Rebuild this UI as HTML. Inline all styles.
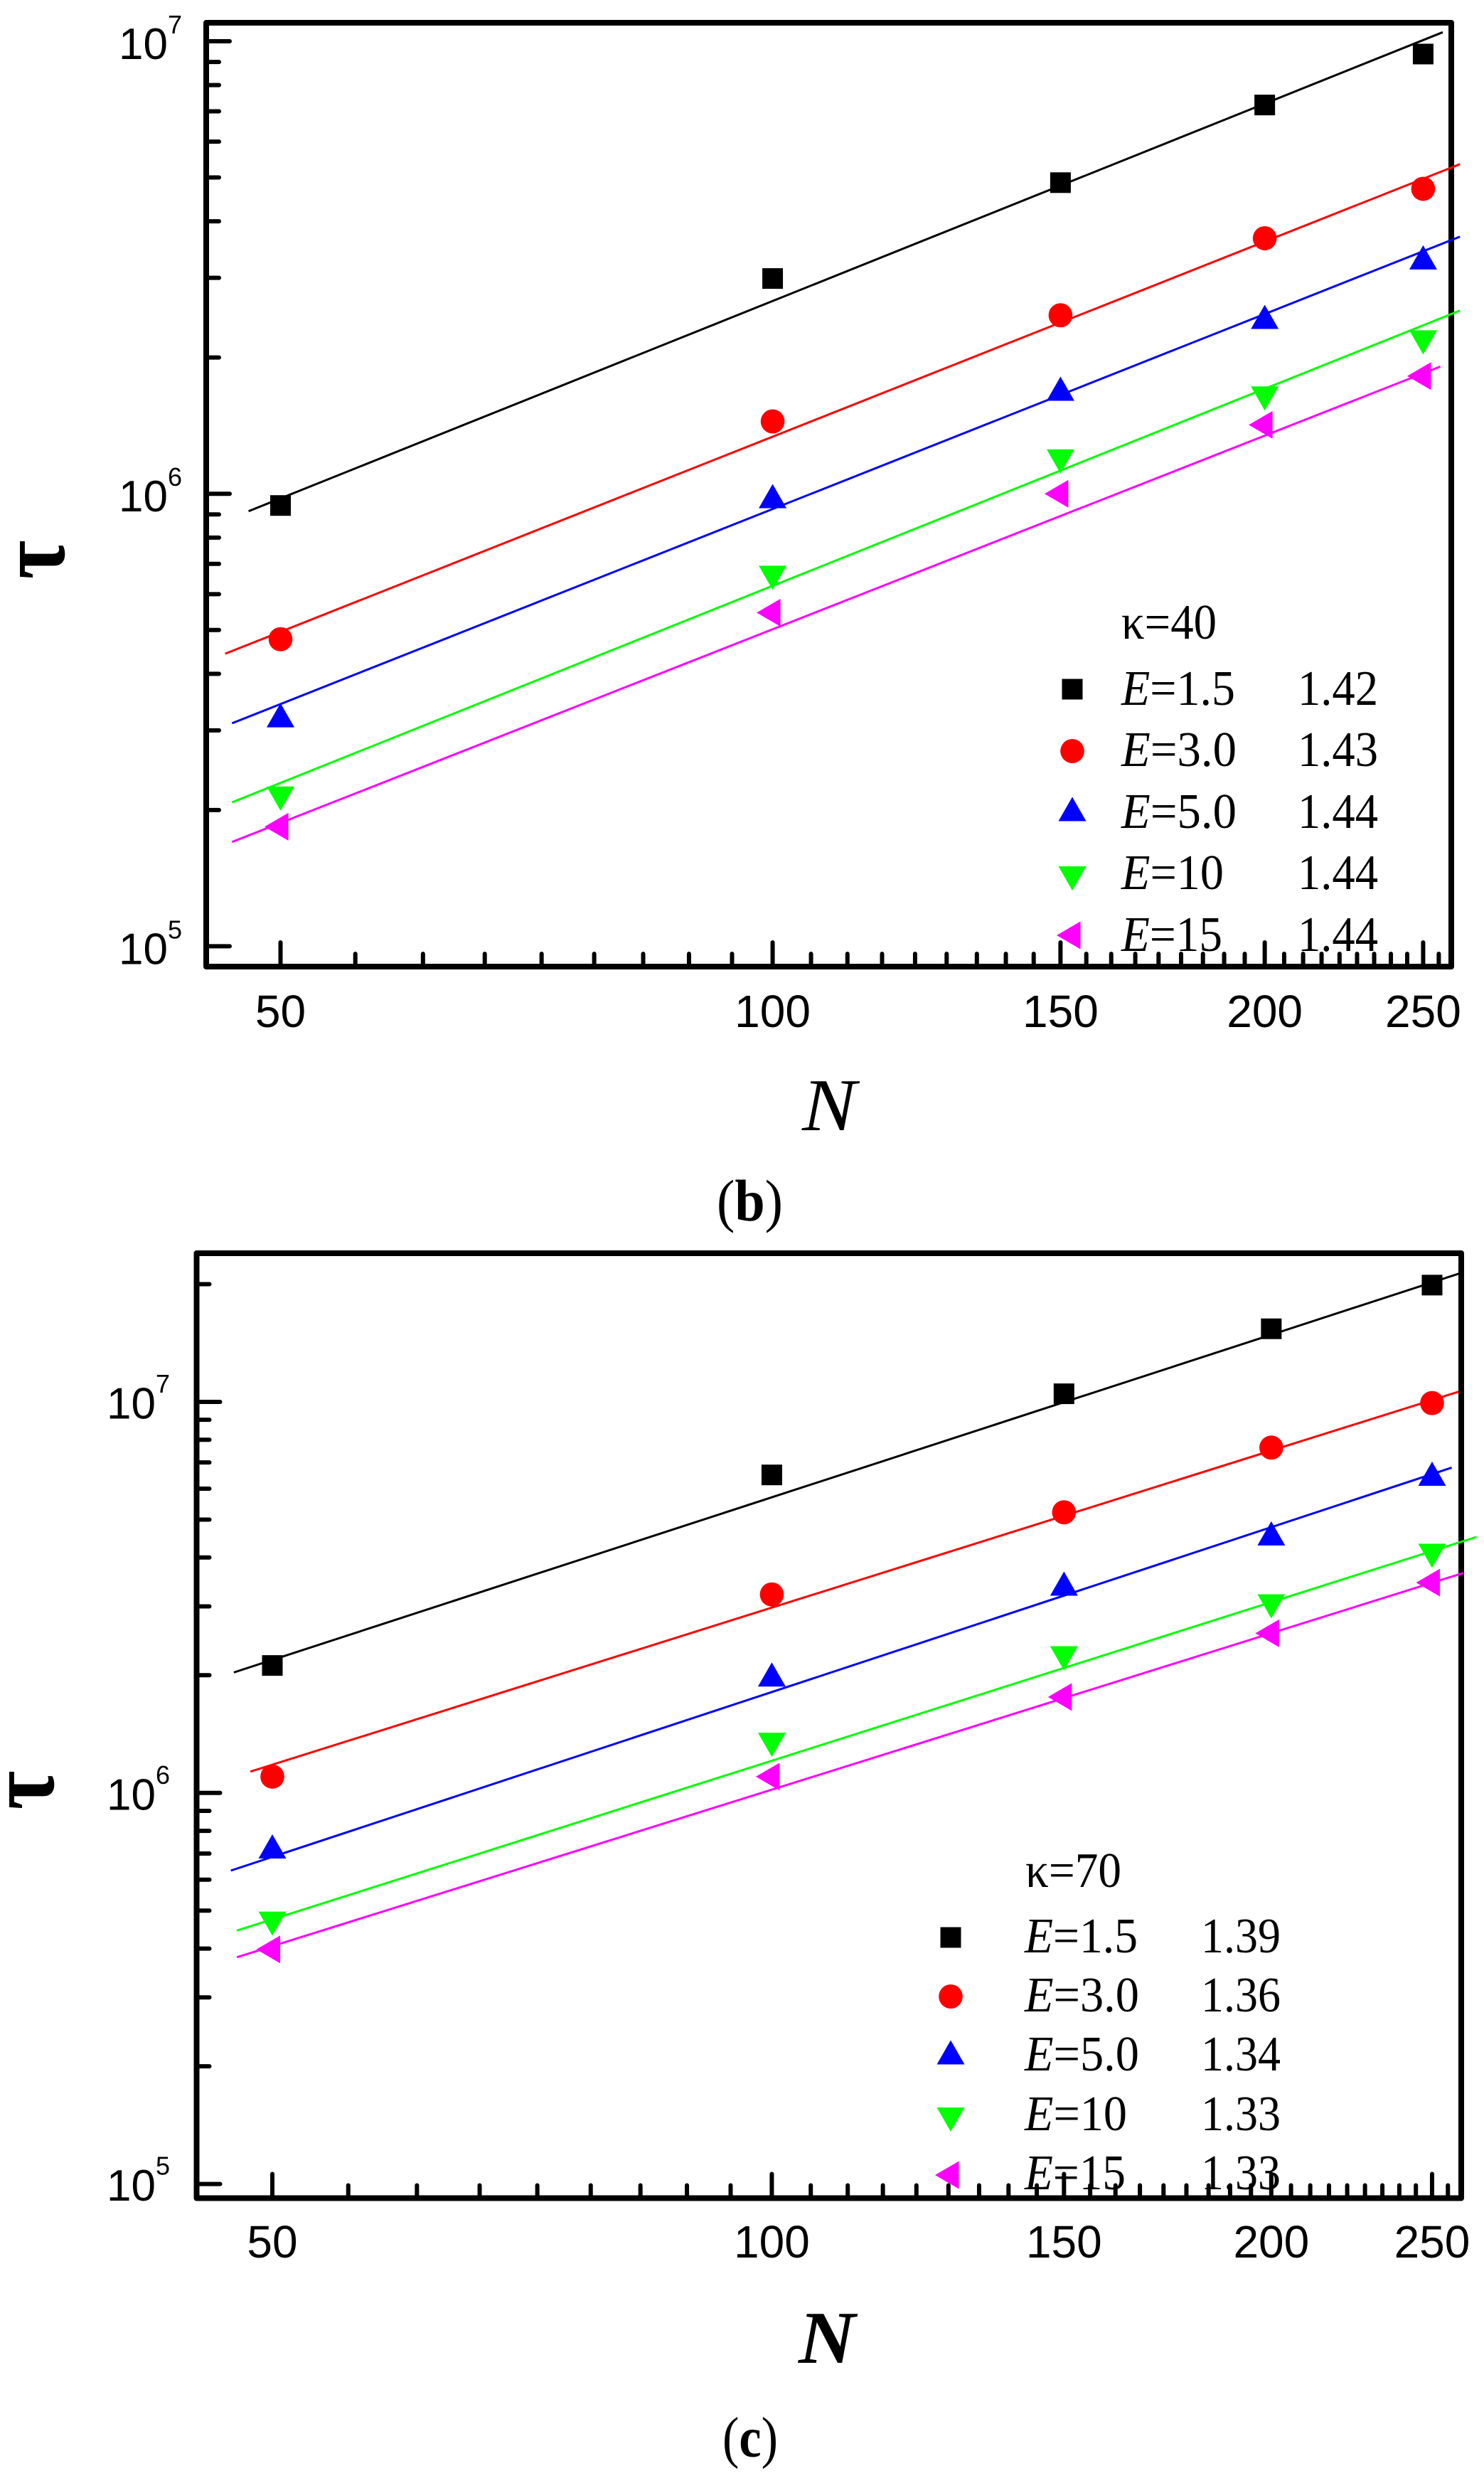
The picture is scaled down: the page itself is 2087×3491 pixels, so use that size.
<!DOCTYPE html>
<html lang="en">
<head>
<meta charset="utf-8">
<title>Relaxation time vs chain length</title>
<style>
html,body{margin:0;padding:0;background:#fff;}
svg{display:block;}
.serif{font-family:"Liberation Serif","DejaVu Serif",serif;fill:#000;}
.leg{font-size:70px;}
</style>
</head>
<body>
<svg id="figure" xmlns="http://www.w3.org/2000/svg" width="2087" height="3491" viewBox="0 0 2087 3491">
  <rect width="2087" height="3491" fill="#fff"/>
  <g id="panel-b"></g>
  <g id="panel-c"></g>

  <g class="serif leg">
    <text x="1577" y="898" textLength="134" lengthAdjust="spacingAndGlyphs">κ=40</text>
    <text x="1577" y="991" textLength="160" lengthAdjust="spacingAndGlyphs"><tspan font-style="italic">E</tspan>=1.5</text>
    <text x="1825" y="991" textLength="113" lengthAdjust="spacingAndGlyphs">1.42</text>
    <text x="1577" y="1077" textLength="162" lengthAdjust="spacingAndGlyphs"><tspan font-style="italic">E</tspan>=3.0</text>
    <text x="1825" y="1077" textLength="113" lengthAdjust="spacingAndGlyphs">1.43</text>
    <text x="1577" y="1164" textLength="162" lengthAdjust="spacingAndGlyphs"><tspan font-style="italic">E</tspan>=5.0</text>
    <text x="1825" y="1164" textLength="113" lengthAdjust="spacingAndGlyphs">1.44</text>
    <text x="1577" y="1250" textLength="144" lengthAdjust="spacingAndGlyphs"><tspan font-style="italic">E</tspan>=10</text>
    <text x="1825" y="1250" textLength="113" lengthAdjust="spacingAndGlyphs">1.44</text>
    <text x="1577" y="1337" textLength="142" lengthAdjust="spacingAndGlyphs"><tspan font-style="italic">E</tspan>=15</text>
    <text x="1825" y="1337" textLength="113" lengthAdjust="spacingAndGlyphs">1.44</text>
  </g>
  <g class="serif leg">
    <text x="1442" y="2653" textLength="135" lengthAdjust="spacingAndGlyphs">κ=70</text>
    <text x="1441" y="2745" textLength="159" lengthAdjust="spacingAndGlyphs"><tspan font-style="italic">E</tspan>=1.5</text>
    <text x="1689" y="2745" textLength="112" lengthAdjust="spacingAndGlyphs">1.39</text>
    <text x="1441" y="2828" textLength="161" lengthAdjust="spacingAndGlyphs"><tspan font-style="italic">E</tspan>=3.0</text>
    <text x="1689" y="2828" textLength="112" lengthAdjust="spacingAndGlyphs">1.36</text>
    <text x="1441" y="2911" textLength="161" lengthAdjust="spacingAndGlyphs"><tspan font-style="italic">E</tspan>=5.0</text>
    <text x="1689" y="2911" textLength="112" lengthAdjust="spacingAndGlyphs">1.34</text>
    <text x="1441" y="2995" textLength="144" lengthAdjust="spacingAndGlyphs"><tspan font-style="italic">E</tspan>=10</text>
    <text x="1689" y="2995" textLength="112" lengthAdjust="spacingAndGlyphs">1.33</text>
    <text x="1441" y="3078" textLength="142" lengthAdjust="spacingAndGlyphs"><tspan font-style="italic">E</tspan>=15</text>
    <text x="1689" y="3078" textLength="112" lengthAdjust="spacingAndGlyphs">1.33</text>
  </g>

  <text class="serif" font-weight="bold" font-size="135" text-anchor="middle" transform="translate(90 787) rotate(-90) scale(.88 1)">τ</text>
  <text class="serif" font-weight="bold" font-size="135" text-anchor="middle" transform="translate(75 2517) rotate(-90) scale(.88 1)">τ</text>
  <text class="serif" font-style="italic" font-size="105" x="1128" y="1589" textLength="76" lengthAdjust="spacingAndGlyphs">N</text>
  <text class="serif" font-style="italic" font-weight="bold" font-size="105" x="1123" y="3322" textLength="80" lengthAdjust="spacingAndGlyphs">N</text>
  <text class="serif" font-size="83" x="1008" y="1716" textLength="93" lengthAdjust="spacingAndGlyphs">(<tspan font-weight="bold">b</tspan>)</text>
  <text class="serif" font-size="80" x="1016" y="3454" textLength="78" lengthAdjust="spacingAndGlyphs">(<tspan font-weight="bold">c</tspan>)</text>
</svg>

<script>
// ---- shared data ----
const categoriesN = [50, 100, 150, 200, 250];
const xTickLabels = ["50", "100", "150", "200", "250"];
const yDecades = [5, 6, 7];
const yMinorMultipliers = [2, 3, 4, 5, 6, 7, 8, 9];
const seriesNames = ["e1-5", "e3-0", "e5-0", "e10", "e15"];
const seriesColors = ["#000000", "#ff0000", "#0000ff", "#00ff00", "#ff00ff"];
const seriesShapes = ["square", "circle", "up", "down", "left"];

// ---- panel (b), kappa = 40: measured tau ----
const bTauE15 = [9.42e5, 2.99e6, 4.87e6, 7.23e6, 9.37e6];
const bTauE30 = [4.77e5, 1.445e6, 2.48e6, 3.67e6, 4.72e6];
const bTauE50 = [3.24e5, 9.88e5, 1.707e6, 2.46e6, 3.33e6];
const bTauE10 = [2.12e5, 6.52e5, 1.179e6, 1.624e6, 2.16e6];
const bTauE15b = [1.837e5, 5.46e5, 1.0e6, 1.42e6, 1.82e6];
// panel (b): fit line end points
const bFitN = [[47.8, 257.0], [46.25, 263.3], [46.7, 263.3], [46.7, 263.3], [46.7, 256.1]];
const bFitTauE15 = [9.15e5, 1.047e7];
const bFitTauE30 = [4.43e5, 5.35e6];
const bFitTauE50 = [3.11e5, 3.70e6];
const bFitTauE10 = [2.08e5, 2.54e6];
const bFitTauE15b = [1.70e5, 1.91e6];

// ---- panel (c), kappa = 70: measured tau ----
const cTauE15 = [2.118e6, 6.505e6, 1.049e7, 1.538e7, 1.989e7];
const cTauE30 = [1.101e6, 3.218e6, 5.22e6, 7.64e6, 9.93e6];
const cTauE50 = [7.30e5, 2.009e6, 3.43e6, 4.61e6, 6.55e6];
const cTauE10 = [4.63e5, 1.328e6, 2.21e6, 3.00e6, 4.04e6];
const cTauE15b = [3.98e5, 1.101e6, 1.76e6, 2.56e6, 3.45e6];
// panel (c): fit line end points
const cFitN = [[47.4, 259.4], [48.5, 259.4], [47.2, 256.9], [47.6, 265.9], [47.6, 261.0]];
const cFitTauE15 = [2.033e6, 2.127e7];
const cFitTauE30 = [1.134e6, 1.062e7];
const cFitTauE50 = [6.33e5, 6.79e6];
const cFitTauE10 = [4.446e5, 4.515e6];
const cFitTauE15b = [3.80e5, 3.65e6];

const SVG_NS = "http://www.w3.org/2000/svg";

function mk(tag, parent) {
  const el = document.createElementNS(SVG_NS, tag);
  parent.appendChild(el);
  return el;
}

function sansText(parent, str, x, y, size, anchor) {
  const t = mk("text", parent);
  t.textContent = str;
  t.setAttribute("x", x);
  t.setAttribute("y", y);
  t.setAttribute("font-size", size);
  t.setAttribute("text-anchor", anchor);
  t.setAttribute("font-family", '"Liberation Sans", Arial, sans-serif');
  t.setAttribute("fill", "#000");
  return t;
}

function drawMarker(parent, shape, color, cx, cy) {
  let el;
  if (shape === "square") {
    el = mk("rect", parent);
    el.setAttribute("x", cx - 14.5);
    el.setAttribute("y", cy - 14.5);
    el.setAttribute("width", 29);
    el.setAttribute("height", 29);
  } else if (shape === "circle") {
    el = mk("ellipse", parent);
    el.setAttribute("cx", cx);
    el.setAttribute("cy", cy);
    el.setAttribute("rx", 16.8);
    el.setAttribute("ry", 17);
  } else {
    el = mk("polygon", parent);
    let pts;
    if (shape === "up") {
      pts = [[cx, cy - 17], [cx + 19.5, cy + 17], [cx - 19.5, cy + 17]];
    } else if (shape === "down") {
      pts = [[cx, cy + 17], [cx + 19.5, cy - 17], [cx - 19.5, cy - 17]];
    } else {
      pts = [[cx - 22, cy], [cx + 11.5, cy - 19.5], [cx + 11.5, cy + 19.5]];
    }
    el.setAttribute("points", pts.map(function (p) { return p.join(","); }).join(" "));
  }
  el.setAttribute("fill", color);
  return el;
}

function drawPanel(cfg) {
  const root = document.getElementById(cfg.id);
  const xScale = function (n) { return cfg.x50 + cfg.xPerDecade * Math.log10(n / 50); };
  const yScale = function (v) { return cfg.y1e7 + cfg.yPerDecade * (7 - Math.log10(v)); };

  // Frame
  const frame = mk("rect", root);
  
  
  frame.setAttribute("x", cfg.left);
  frame.setAttribute("y", cfg.top);
  frame.setAttribute("width", cfg.right - cfg.left);
  frame.setAttribute("height", cfg.bottom - cfg.top);
  frame.setAttribute("fill", "none");
  frame.setAttribute("stroke", "#000");
  frame.setAttribute("stroke-width", 8);
  frame.setAttribute("stroke-linejoin", "round");

  // X axis ticks
  const xAxis = mk("g", root);
  
  
  xAxis.setAttribute("stroke-linecap", "round");
  const xTick = function (n, len, kind) {
    const l = mk("line", xAxis);
    
    
    l.setAttribute("x1", xScale(n));
    l.setAttribute("x2", xScale(n));
    l.setAttribute("y1", cfg.bottom);
    l.setAttribute("y2", cfg.bottom - len);
    l.setAttribute("stroke", "#000");
    l.setAttribute("stroke-width", 6);
  };
  categoriesN.forEach(function (n, i) {
    xTick(n, 34, "major");
    for (let k = 1; k <= 8; k++) {
      const step = 50 / 9;
      if (i < categoriesN.length - 1 || k === 1) {
        xTick(n + k * step, 18, "minor");
      }
    }
    const lab = sansText(xAxis, xTickLabels[i], xScale(n), cfg.xLabelBaseline, 64, "middle");
    
    
  });

  // Y axis ticks
  const yAxis = mk("g", root);
  
  
  yAxis.setAttribute("stroke-linecap", "round");
  const yTick = function (v, len, kind) {
    const l = mk("line", yAxis);
    
    
    l.setAttribute("x1", cfg.left);
    l.setAttribute("x2", cfg.left + len);
    l.setAttribute("y1", yScale(v));
    l.setAttribute("y2", yScale(v));
    l.setAttribute("stroke", "#000");
    l.setAttribute("stroke-width", 6);
  };
  yDecades.forEach(function (d) {
    const base = Math.pow(10, d);
    yTick(base, 33, "major");
    yMinorMultipliers.forEach(function (m) {
      const py = yScale(m * base);
      if (py > cfg.top + 10 && py < cfg.bottom - 10) {
        yTick(m * base, 18, "minor");
      }
    });
    const py10 = yScale(base);
    const ten = sansText(yAxis, "10", cfg.yLabelRight, py10 + cfg.yLabelDrop, 62, "end");
    
    
    const ex = sansText(yAxis, String(d), cfg.yLabelRight, py10 + cfg.yExpDrop, 36, "start");
    
    
  });

  // Fit lines
  cfg.series.forEach(function (tau, s) {
    const fit = mk("line", root);
    
    
    fit.setAttribute("x1", xScale(cfg.fitN[s][0]));
    fit.setAttribute("y1", yScale(cfg.fitTau[s][0]));
    fit.setAttribute("x2", xScale(cfg.fitN[s][1]));
    fit.setAttribute("y2", yScale(cfg.fitTau[s][1]));
    fit.setAttribute("stroke", seriesColors[s]);
    fit.setAttribute("stroke-width", 3);
  });

  // Data points
  cfg.series.forEach(function (tau, s) {
    const group = mk("g", root);
    
    
    tau.forEach(function (v, i) {
      const cx = xScale(categoriesN[i]) + (seriesShapes[s] === "left" ? -0.5 : 0);
      const m = drawMarker(group, seriesShapes[s], seriesColors[s], cx, yScale(v));
      
      
    });
  });

  // Legend markers
  const leg = mk("g", root);
  
  
  cfg.legendY.forEach(function (ly, s) {
    const m = drawMarker(leg, seriesShapes[s], seriesColors[s], cfg.legendX, ly);
    
    
  });
}

drawPanel({
  id: "panel-b", key: "b",
  left: 290, right: 2041, top: 32, bottom: 1359,
  x50: 394.5, xPerDecade: 2299, y1e7: 58, yPerDecade: 636.2,
  xLabelBaseline: 1444, yLabelRight: 236, yLabelDrop: 25, yExpDrop: -11,
  series: [bTauE15, bTauE30, bTauE50, bTauE10, bTauE15b],
  fitN: bFitN,
  fitTau: [bFitTauE15, bFitTauE30, bFitTauE50, bFitTauE10, bFitTauE15b],
  legendX: 1508,
  legendY: [969, 1056, 1137.5, 1235, 1315]
});

drawPanel({
  id: "panel-c", key: "c",
  left: 276.5, right: 2055, top: 1762, bottom: 3090.5,
  x50: 383, xPerDecade: 2333.4, y1e7: 1971, yPerDecade: 549.8,
  xLabelBaseline: 3174, yLabelRight: 219, yLabelDrop: 23.5, yExpDrop: -13,
  series: [cTauE15, cTauE30, cTauE50, cTauE10, cTauE15b],
  fitN: cFitN,
  fitTau: [cFitTauE15, cFitTauE30, cFitTauE50, cFitTauE10, cFitTauE15b],
  legendX: 1337,
  legendY: [2724, 2807, 2885.5, 2980, 3058]
});
</script>
</body>
</html>
